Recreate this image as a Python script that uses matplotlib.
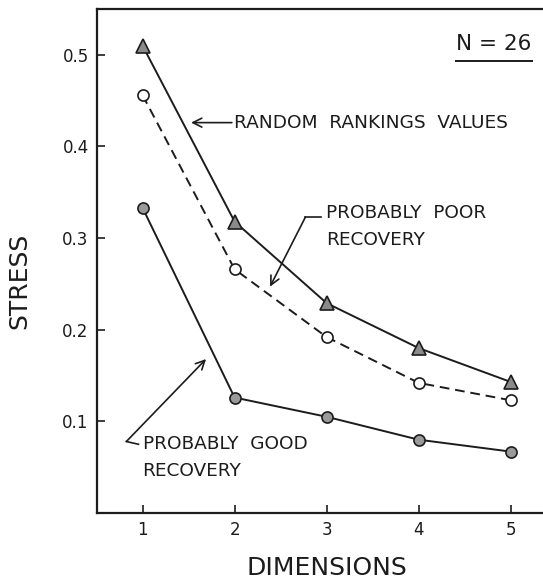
import matplotlib
matplotlib.use("Agg")
import matplotlib.pyplot as plt

dims = [1, 2, 3, 4, 5]
random_rankings = [0.510, 0.318, 0.229, 0.180, 0.143]
poor_recovery = [0.456, 0.266, 0.192, 0.142, 0.123]
good_recovery = [0.333, 0.126, 0.105, 0.080, 0.067]

yticks = [0.1, 0.2, 0.3, 0.4, 0.5]
ytick_labels = ["0.1", "0.2", "0.3", "0.4", "0.5"]

ink = "#1c1c1c"
plt.rcParams["font.family"] = "DejaVu Sans"

fig = plt.figure(figsize=(5.43, 5.79), dpi=100)
ax = fig.add_axes([97 / 543, 1 - 513 / 579, 1 - 97 / 543 + 0.01, (513 - 9) / 579])

ax.plot(dims, random_rankings, color=ink, lw=1.4, marker="^", markersize=9.5,
        markerfacecolor="#8a8a8a", markeredgecolor=ink, markeredgewidth=1.2)
ax.plot(dims, poor_recovery, color=ink, lw=1.4, ls=(0, (5, 3)), marker="o", markersize=8,
        markerfacecolor="white", markeredgecolor=ink, markeredgewidth=1.2)
ax.plot(dims, good_recovery, color=ink, lw=1.4, marker="o", markersize=8,
        markerfacecolor="#9a9a9a", markeredgecolor=ink, markeredgewidth=1.2)

ax.set_xlim(0.505, 5.41)
ax.set_ylim(0, 0.550)
ax.set_xticks(dims)
ax.set_xticklabels([str(d) for d in dims])
ax.set_yticks(yticks)
ax.set_yticklabels(ytick_labels)
ax.tick_params(axis="both", direction="in", length=6, width=1.2, pad=6,
               labelsize=12, colors=ink)
for side in ["left", "bottom", "top"]:
    ax.spines[side].set_linewidth(1.6)
    ax.spines[side].set_color(ink)
ax.spines["right"].set_visible(False)

ax.set_xlabel("DIMENSIONS", fontsize=18, color=ink)
ax.set_ylabel("STRESS", fontsize=18, color=ink)
ax.xaxis.set_label_coords(0.51, -0.085)
ax.yaxis.set_label_coords(-0.145, 0.46)

arrow = dict(arrowstyle="->", color=ink, lw=1.2, mutation_scale=16, shrinkA=0, shrinkB=0)
txt = dict(fontsize=13.3, color=ink, va="center", ha="left")

# random rankings
ax.annotate("", xy=(1.527, 0.426), xytext=(1.97, 0.426), arrowprops=arrow)
ax.text(1.99, 0.426, "RANDOM  RANKINGS  VALUES", **txt)

# probably poor recovery
ax.plot([2.77, 2.94], [0.323, 0.323], color=ink, lw=1.2)
ax.annotate("", xy=(2.385, 0.247), xytext=(2.77, 0.323), arrowprops=arrow)
ax.text(2.99, 0.327, "PROBABLY  POOR", **txt)
ax.text(2.99, 0.298, "RECOVERY", **txt)

# probably good recovery
ax.plot([0.824, 0.956], [0.078, 0.075], color=ink, lw=1.2)
ax.annotate("", xy=(1.69, 0.168), xytext=(0.824, 0.078), arrowprops=arrow)
ax.text(1.0, 0.075, "PROBABLY  GOOD", **txt)
ax.text(1.0, 0.046, "RECOVERY", **txt)

# sample size
ax.text(4.41, 0.512, "N = 26", fontsize=15.5, color=ink, va="center", ha="left")
ax.plot([4.41, 5.23], [0.493, 0.493], color=ink, lw=1.4)

fig.savefig("out.png", dpi=100)
